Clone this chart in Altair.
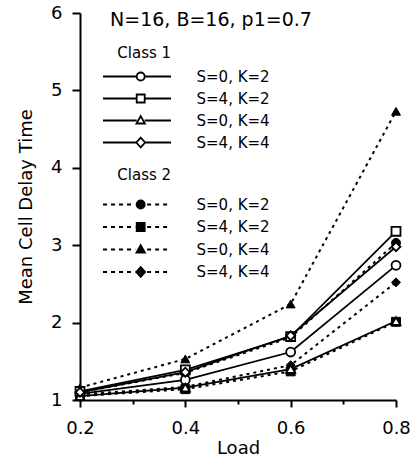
import altair as alt
import pandas as pd

# Offered load on the x axis
loads = [0.2, 0.4, 0.6, 0.8]
series_names = ["S=0, K=2", "S=4, K=2", "S=0, K=4", "S=4, K=4"]

# Class 1 mean cell delay
c1_s0_k2 = [1.08, 1.26, 1.62, 2.74]
c1_s4_k2 = [1.11, 1.39, 1.82, 3.18]
c1_s0_k4 = [1.05, 1.16, 1.40, 2.02]
c1_s4_k4 = [1.10, 1.36, 1.83, 2.98]

# Class 2 mean cell delay
c2_s0_k2 = [1.10, 1.35, 1.81, 3.03]
c2_s4_k2 = [1.05, 1.14, 1.37, 2.01]
c2_s0_k4 = [1.16, 1.53, 2.24, 4.73]
c2_s4_k4 = [1.07, 1.17, 1.45, 2.52]

x_ticks = [0.2, 0.3, 0.4, 0.5, 0.6, 0.7, 0.8]
y_ticks = [1, 1.5, 2, 2.5, 3, 3.5, 4, 4.5, 5, 5.5, 6]

FONT = "DejaVu Sans"


def long_table(cls, columns):
    rows = []
    for name, vals in zip(series_names, columns):
        for x, v in zip(loads, vals):
            rows.append({"cls": cls, "series": name, "load": x, "delay": v})
    return pd.DataFrame(rows)


df1 = long_table("Class 1", [c1_s0_k2, c1_s4_k2, c1_s0_k4, c1_s4_k4])
df2 = long_table("Class 2", [c2_s0_k2, c2_s4_k2, c2_s0_k4, c2_s4_k4])

x_enc = alt.X(
    "load:Q",
    scale=alt.Scale(domain=[0.2, 0.8], nice=False, zero=False),
    axis=alt.Axis(
        values=x_ticks,
        format=".1f",
        labelExpr="round(datum.value * 10) % 2 == 0 ? datum.label : ''",
        tickSize={"condition": {"test": "round(datum.value * 10) % 2 == 0", "value": 7}, "value": 4},
        labelFlush=False,
        labelOverlap=False,
        labelPadding=12,
        title="Load",
        titlePadding=2,
    ),
)
y_enc = alt.Y(
    "delay:Q",
    scale=alt.Scale(domain=[1, 6], nice=False, zero=False),
    axis=alt.Axis(
        values=y_ticks,
        format="d",
        labelExpr="datum.value % 1 == 0 ? datum.label : ''",
        tickSize={"condition": {"test": "datum.value % 1 == 0", "value": 8}, "value": 4},
        labelOverlap=False,
        labelPadding=10,
        title="Mean Cell Delay Time",
        titlePadding=15,
    ),
)

plot_shapes = ["circle", "square", "triangle-up", "diamond"]


def marker_outline(kind, m, r):
    if kind == "circle":
        return f"M{m + r:.2f},0A{r:.2f},{r:.2f} 0 1,1 {m - r:.2f},0A{r:.2f},{r:.2f} 0 1,1 {m + r:.2f},0Z"
    if kind == "square":
        return f"M{m - r:.2f},{-r:.2f}L{m + r:.2f},{-r:.2f}L{m + r:.2f},{r:.2f}L{m - r:.2f},{r:.2f}Z"
    if kind == "triangle-up":
        return (f"M{m:.2f},{-r * 1.1:.2f}L{m + r * 1.05:.2f},{r * 0.75:.2f}"
                f"L{m - r * 1.05:.2f},{r * 0.75:.2f}Z")
    return (f"M{m:.2f},{-r * 1.2:.2f}L{m + r * 1.1:.2f},0"
            f"L{m:.2f},{r * 1.2:.2f}L{m - r * 1.1:.2f},0Z")


def legend_path(kind, dashed):
    # line sample with a marker, in symbol units (1 unit = 5 px at size 100)
    m, r = 0.74, 0.8
    half = 6.8
    segs = []
    if dashed:
        d, g = 0.8, 0.8
        x = -half
        while x < m - r - 0.3:
            segs.append(f"M{x:.2f},0L{min(x + d, m - r - 0.3):.2f},0")
            x += d + g
        x = m + r + g * 0.6
        while x < half:
            segs.append(f"M{x:.2f},0L{min(x + d, half):.2f},0")
            x += d + g
        # solid marker: nested outlines filled in by the stroke
        mk = "".join(marker_outline(kind, m, r * f) for f in (1.0, 0.62, 0.28))
    else:
        segs.append(f"M{-half},0L{m - r:.2f},0M{m + r:.2f},0L{half},0")
        mk = marker_outline(kind, m, r)
    return "".join(segs) + mk


def legend_def(title, ly, title_pad, row_pad):
    return alt.Legend(
        orient="none",
        legendX=23,
        legendY=ly,
        title=title,
        titleFont=FONT,
        titleFontSize=15,
        titleFontWeight="normal",
        titleColor="black",
        titlePadding=title_pad,
        labelFont=FONT,
        labelFontSize=15,
        labelColor="black",
        labelOffset=52,
        labelLimit=0,
        symbolOffset=26.5,
        symbolSize=100,
        symbolStrokeWidth=1.8,
        symbolStrokeColor="black",
        symbolFillColor="white",
        symbolOpacity=1,
        rowPadding=row_pad,
        padding=0,
    )


lines1 = alt.Chart(df1).mark_line(color="black", strokeWidth=1.8).encode(
    x=x_enc, y=y_enc, detail="series:N"
)
lines2 = alt.Chart(df2).mark_line(color="black", strokeWidth=2, strokeDash=[3, 4]).encode(
    x=x_enc, y=y_enc, detail="series:N"
)
pts2 = alt.Chart(df2).mark_point(
    filled=True, fill="black", stroke="black", strokeWidth=1, size=80, opacity=1
).encode(
    x=x_enc,
    y=y_enc,
    shape=alt.Shape("series:N", scale=alt.Scale(domain=series_names, range=plot_shapes), legend=None),
)
pts1 = alt.Chart(df1).mark_point(
    filled=True, fill="white", stroke="black", strokeWidth=1.8, size=80, opacity=1
).encode(
    x=x_enc,
    y=y_enc,
    shape=alt.Shape("series:N", scale=alt.Scale(domain=series_names, range=plot_shapes), legend=None),
)

# keys: line samples with markers, no plotted marks
key1 = alt.Chart(df1).transform_filter("false").mark_point(
    filled=False, color="black", strokeWidth=1.8, size=100, opacity=1
).encode(
    x=x_enc,
    y=y_enc,
    shape=alt.Shape(
        "series:N",
        scale=alt.Scale(domain=series_names, range=[legend_path(k, False) for k in plot_shapes]),
        legend=legend_def("\u200b\u00a0\u00a0\u00a0Class 1", 33, 8, 5),
    ),
)
key2 = alt.Chart(df2).transform_filter("false").mark_point(
    filled=False, color="black", strokeWidth=1.8, size=100, opacity=1
).encode(
    x=x_enc,
    y=y_enc,
    shape=alt.Shape(
        "series:N",
        scale=alt.Scale(domain=series_names, range=[legend_path(k, True) for k in plot_shapes]),
        legend=legend_def("\u200b\u00a0\u00a0\u00a0Class 2", 155, 14, 5.5),
    ),
)

chart = (
    alt.layer(lines2, lines1, pts2, pts1, key1, key2)
    .resolve_scale(shape="independent")
    .properties(
        width=316,
        height=387,
        autosize=alt.AutoSizeParams(type="none"),
        padding={"left": 80, "top": 13, "right": 21, "bottom": 59},
        title=alt.TitleParams(
            "N=16, B=16, p1=0.7",
            anchor="start",
            frame="group",
            font=FONT,
            fontSize=19,
            fontWeight="normal",
            color="black",
            baseline="middle",
            offset=0,
            dx=30,
            dy=35,
        ),
    )
    .configure_view(stroke=None)
    .configure_axis(
        grid=False,
        domainColor="black",
        domainWidth=2,
        tickColor="black",
        tickWidth=2,
        labelFont=FONT,
        labelFontSize=18,
        labelColor="black",
        titleFont=FONT,
        titleFontSize=18,
        titleFontWeight="normal",
        titleColor="black",
    )
)

chart.save("out.html", embed_options={"renderer": "svg", "actions": False})
